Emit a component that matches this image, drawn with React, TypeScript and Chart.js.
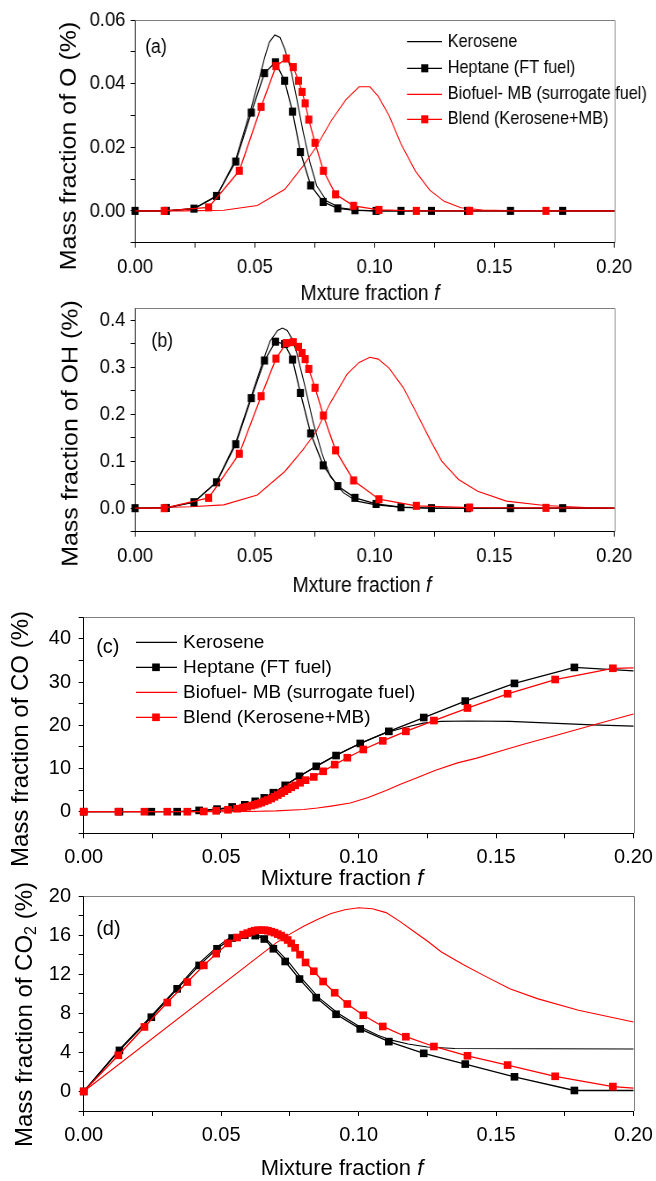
import React, { useEffect, useRef } from "react";
import { Chart, registerables } from "chart.js";

Chart.register(...registerables);

const FONT = "'Liberation Sans', Arial, Helvetica, sans-serif";
const BLACK = "#000000";
const RED = "#ff0000";
const FRAME = "#808080";

const seriesNames = ["Kerosene", "Heptane (FT fuel)", "Biofuel- MB (surrogate fuel)", "Blend (Kerosene+MB)"];

// axis tick labels (values that carry a label)
const xMajor = [0, 0.05, 0.1, 0.15, 0.2];
const yMajorO = [0, 0.02, 0.04, 0.06];
const yMajorOH = [0, 0.1, 0.2, 0.3, 0.4];
const yMajorCO = [0, 10, 20, 30, 40];
const yMajorCO2 = [0, 4, 8, 12, 16, 20];

// mixture-fraction grids of the marker series
const fHeptane = [0, 0.013, 0.0246, 0.034, 0.042, 0.0485, 0.054, 0.0586, 0.0624, 0.0657, 0.069, 0.0733, 0.0785, 0.0846, 0.0918, 0.1006, 0.111, 0.1237, 0.1388, 0.1567, 0.1785, 0.2];
const fBlendAB = [0, 0.0122, 0.0307, 0.0435, 0.0526, 0.0588, 0.0631, 0.066, 0.0682, 0.0697, 0.071, 0.0725, 0.0751, 0.0786, 0.0837, 0.0912, 0.1018, 0.1174, 0.1396, 0.1715, 0.2];
const fBlendCD = [0, 0.0126, 0.0221, 0.0304, 0.0377, 0.0437, 0.0482, 0.0525, 0.0558, 0.058, 0.0595, 0.061, 0.0622, 0.0634, 0.0646, 0.0658, 0.067, 0.0682, 0.0694, 0.0706, 0.0718, 0.073, 0.0742, 0.0755, 0.0769, 0.0787, 0.0807, 0.0837, 0.0871, 0.0913, 0.0959, 0.1017, 0.1088, 0.1172, 0.1274, 0.1396, 0.1542, 0.1715, 0.1925, 0.2];

// (a) O
const fKeroseneO = [0, 0.013, 0.0245, 0.034, 0.042, 0.0485, 0.052, 0.054, 0.056, 0.0583, 0.0605, 0.0625, 0.065, 0.0675, 0.0702, 0.073, 0.0758, 0.08, 0.0855, 0.093, 0.1, 0.11, 0.2];
const keroseneO = [0, 0, 0.0007, 0.0046, 0.0162, 0.0325, 0.042, 0.048, 0.053, 0.0553, 0.0545, 0.0508, 0.0445, 0.0351, 0.0246, 0.0152, 0.0079, 0.0031, 0.001, 0.0002, 0, 0, 0];
const heptaneO = [0, 0, 0.0007, 0.0047, 0.0155, 0.0309, 0.0433, 0.0467, 0.0409, 0.0312, 0.0185, 0.008, 0.0028, 0.0008, 0.0002, 0, 0, 0, 0, 0, 0, 0];
const fBiofuelO = [0, 0.02, 0.037, 0.051, 0.0625, 0.07, 0.0755, 0.082, 0.088, 0.0935, 0.098, 0.1015, 0.106, 0.111, 0.117, 0.123, 0.129, 0.136, 0.145, 0.16, 0.2];
const biofuelO = [0, 0, 0.0002, 0.0017, 0.0068, 0.014, 0.02, 0.0285, 0.035, 0.039, 0.039, 0.036, 0.03, 0.021, 0.0125, 0.0065, 0.003, 0.001, 0.0003, 0, 0];
const blendO = [0, 0, 0.0011, 0.0126, 0.0327, 0.0455, 0.0479, 0.0452, 0.0409, 0.0374, 0.0338, 0.0287, 0.0214, 0.0126, 0.0052, 0.0016, 0.0003, 0, 0, 0, 0];

// (b) OH
const fKeroseneOH = [0, 0.013, 0.0245, 0.034, 0.042, 0.0485, 0.054, 0.0563, 0.0595, 0.0615, 0.0635, 0.0655, 0.0675, 0.0709, 0.0744, 0.0779, 0.0814, 0.0869, 0.0925, 0.1006, 0.111, 0.124, 0.2];
const keroseneOH = [0, 0.001, 0.013, 0.056, 0.14, 0.238, 0.322, 0.355, 0.378, 0.383, 0.378, 0.36, 0.33, 0.259, 0.181, 0.118, 0.068, 0.033, 0.015, 0.007, 0.002, 0, 0];
const heptaneOH = [0, 0.0005, 0.0127, 0.055, 0.136, 0.234, 0.314, 0.354, 0.349, 0.316, 0.245, 0.159, 0.091, 0.047, 0.022, 0.009, 0.002, 0, 0, 0, 0, 0];
const fBiofuelOH = [0, 0.023, 0.037, 0.051, 0.0625, 0.07, 0.0755, 0.0815, 0.0885, 0.0935, 0.098, 0.1015, 0.106, 0.112, 0.118, 0.1235, 0.128, 0.135, 0.143, 0.155, 0.171, 0.188, 0.2];
const biofuelOH = [0, 0.003, 0.007, 0.028, 0.078, 0.124, 0.162, 0.224, 0.285, 0.31, 0.321, 0.317, 0.298, 0.256, 0.197, 0.142, 0.1, 0.061, 0.036, 0.015, 0.0057, 0.0014, 0];
const blendOH = [0, 0, 0.022, 0.1157, 0.238, 0.318, 0.351, 0.353, 0.343, 0.33, 0.317, 0.296, 0.256, 0.197, 0.123, 0.059, 0.019, 0.005, 0.0014, 0.0007, 0];

// (c) CO
const fKeroseneCO = [0, 0.04, 0.045, 0.05, 0.055, 0.06, 0.065, 0.07, 0.075, 0.08, 0.085, 0.09, 0.095, 0.1, 0.105, 0.11, 0.1175, 0.1235, 0.13, 0.14, 0.155, 0.17, 0.185, 0.2];
const keroseneCO = [0, 0.1, 0.3, 0.6, 1.2, 1.9, 3.0, 4.7, 6.8, 8.8, 10.7, 12.5, 14.1, 15.6, 17.0, 18.3, 19.6, 20.5, 20.9, 21.0, 20.9, 20.5, 20.1, 19.8];
const heptaneCO = [0, 0, 0, 0, 0.3, 0.6, 1.1, 1.6, 2.4, 3.2, 4.4, 6.1, 8.2, 10.5, 13.0, 15.8, 18.6, 21.8, 25.6, 29.7, 33.4, 32.6];
const fBiofuelCO = [0, 0.05, 0.06, 0.07, 0.08, 0.085, 0.09, 0.097, 0.1035, 0.11, 0.115, 0.121, 0.128, 0.136, 0.143, 0.1535, 0.16, 0.172, 0.186, 0.2];
const biofuelCO = [0, 0, 0.05, 0.2, 0.5, 0.85, 1.3, 2.0, 3.3, 4.9, 6.3, 7.8, 9.6, 11.3, 12.4, 14.4, 15.6, 17.7, 20.2, 22.6];
const blendCO = [0, 0, 0, 0, 0, 0.05, 0.2, 0.45, 0.7, 0.95, 1.15, 1.4, 1.6, 1.85, 2.1, 2.4, 2.7, 3.05, 3.45, 3.85, 4.3, 4.75, 5.2, 5.65, 6.1, 6.7, 7.3, 8.05, 9.35, 10.9, 12.5, 14.4, 16.4, 18.6, 21.1, 24.0, 27.3, 30.6, 33.2, 33.3];

// (d) CO2
const fKeroseneCO2 = [0, 0.013, 0.0245, 0.034, 0.0415, 0.0485, 0.0535, 0.0585, 0.062, 0.066, 0.07, 0.0745, 0.0795, 0.0855, 0.0925, 0.1, 0.107, 0.112, 0.118, 0.125, 0.135, 0.2];
const keroseneCO2 = [0, 4.3, 7.7, 10.6, 13.0, 14.8, 15.8, 16.2, 16.15, 15.7, 14.6, 13.25, 11.5, 9.6, 8.0, 6.7, 5.75, 5.25, 4.85, 4.55, 4.4, 4.35];
const heptaneCO2 = [0, 4.2, 7.6, 10.5, 12.9, 14.6, 15.7, 16.0, 15.95, 15.6, 14.6, 13.3, 11.5, 9.6, 7.9, 6.4, 5.1, 3.9, 2.8, 1.5, 0.1, 0.1];
const fBiofuelCO2 = [0, 0.07, 0.075, 0.08, 0.085, 0.09, 0.095, 0.1, 0.105, 0.11, 0.115, 0.12, 0.125, 0.13, 0.138, 0.146, 0.155, 0.165, 0.18, 0.2];
const biofuelCO2 = [0, 15.2, 16.1, 16.9, 17.6, 18.2, 18.6, 18.8, 18.7, 18.3, 17.4, 16.4, 15.4, 14.3, 13.0, 11.8, 10.5, 9.5, 8.3, 7.1];
const blendCO2 = [0, 3.7, 6.6, 9.1, 11.2, 12.9, 14.1, 15.15, 15.75, 16.05, 16.2, 16.35, 16.45, 16.5, 16.5, 16.5, 16.45, 16.35, 16.25, 16.1, 15.95, 15.75, 15.5, 15.15, 14.7, 14.0, 13.2, 12.3, 11.25, 10.1, 8.95, 7.8, 6.65, 5.6, 4.6, 3.65, 2.7, 1.55, 0.5, 0.35];

type Part = { text: string; sub?: boolean };
type Curve = { name: string; f: number[]; v: number[]; color: string; markers: boolean; firstMarker: boolean };
type LegendSpec = { x1: number; x2: number; xm: number; xt: number; rows: number[]; size: number };
type PanelSpec = {
  top: number; height: number; k: number;
  area: number[];
  yMin: number; yMax: number; yStep: number; yMajor: number[]; yDec: number;
  tickSize: number; padX: number; padY: number; markR: number;
  curves: Curve[];
  tag: string; tagPos: number[];
  yTitle: Part[]; yTitlePos: number[]; yTitleSize: number;
  xTitle: string; xTitlePos: number[]; xTitleSize: number;
  legend?: LegendSpec;
};

function curves(fk: number[], k: number[], h: number[], fb: number[], b: number[], fbl: number[], bl: number[], blendFirst: boolean): Curve[] {
  return [
    { name: seriesNames[0], f: fk, v: k, color: BLACK, markers: false, firstMarker: false },
    { name: seriesNames[1], f: fHeptane, v: h, color: BLACK, markers: true, firstMarker: true },
    { name: seriesNames[2], f: fb, v: b, color: RED, markers: false, firstMarker: false },
    { name: seriesNames[3], f: fbl, v: bl, color: RED, markers: true, firstMarker: blendFirst },
  ];
}

const panels: PanelSpec[] = [
  {
    top: 0, height: 310, k: 0.88, area: [135.1, 614.2, 20, 242.7],
    yMin: -0.01, yMax: 0.06, yStep: 0.01, yMajor: yMajorO, yDec: 2,
    tickSize: 21, padX: 7.2, padY: 5.9, markR: 5.7,
    curves: curves(fKeroseneO, keroseneO, heptaneO, fBiofuelO, biofuelO, fBlendAB, blendO, false),
    tag: "(a)", tagPos: [145.2, 47.5],
    yTitle: [{ text: "Mass fraction of O (%)" }], yTitlePos: [70, 146], yTitleSize: 25,
    xTitle: "Mxture fraction ", xTitlePos: [370, 293.5], xTitleSize: 22,
    legend: { x1: 407, x2: 442, xm: 424.7, xt: 447.7, rows: [41.7, 68.3, 94.3, 119.3], size: 18.5 },
  },
  {
    top: 290, height: 315, k: 0.88, area: [135.1, 614.2, 308.3, 531.7],
    yMin: -0.05, yMax: 0.425, yStep: 0.05, yMajor: yMajorOH, yDec: 1,
    tickSize: 21, padX: 6.7, padY: 5.9, markR: 5.7,
    curves: curves(fKeroseneOH, keroseneOH, heptaneOH, fBiofuelOH, biofuelOH, fBlendAB, blendOH, false),
    tag: "(b)", tagPos: [151.5, 341],
    yTitle: [{ text: "Mass fraction of OH (%)" }], yTitlePos: [71, 433.5], yTitleSize: 25,
    xTitle: "Mxture fraction ", xTitlePos: [362, 586], xTitleSize: 22,
  },
  {
    top: 595, height: 295, k: 1, area: [83.7, 633.5, 617.3, 833.3],
    yMin: -5, yMax: 45, yStep: 5, yMajor: yMajorCO, yDec: 0,
    tickSize: 20, padX: 7.2, padY: 7.6, markR: 5.4,
    curves: curves(fKeroseneCO, keroseneCO, heptaneCO, fBiofuelCO, biofuelCO, fBlendCD, blendCO, true),
    tag: "(c)", tagPos: [96.2, 647.5],
    yTitle: [{ text: "Mass fraction of CO (%)" }], yTitlePos: [21, 739], yTitleSize: 24,
    xTitle: "Mixture fraction ", xTitlePos: [342, 879], xTitleSize: 22,
    legend: { x1: 136, x2: 177, xm: 156, xt: 183, rows: [642.3, 667.3, 692.3, 717.3], size: 19 },
  },
  {
    top: 875, height: 306, k: 1, area: [83.7, 633.5, 896, 1111],
    yMin: -2, yMax: 20, yStep: 2, yMajor: yMajorCO2, yDec: 0,
    tickSize: 20, padX: 7, padY: 7.6, markR: 5.4,
    curves: curves(fKeroseneCO2, keroseneCO2, heptaneCO2, fBiofuelCO2, biofuelCO2, fBlendCD, blendCO2, true),
    tag: "(d)", tagPos: [96.2, 929],
    yTitle: [{ text: "Mass fraction of CO" }, { text: "2", sub: true }, { text: " (%)" }], yTitlePos: [25, 1014.5], yTitleSize: 24,
    xTitle: "Mixture fraction ", xTitlePos: [342, 1169], xTitleSize: 22,
  },
];

const isMajor = (v: number, majors: number[]) => majors.some((m) => Math.abs(m - v) < 1e-9);
const fmt = (v: number, dec: number) => (Math.abs(v) < 1e-9 ? 0 : v).toFixed(dec);

function makeDeco(spec: PanelSpec, px: (x: number) => number, py: (y: number) => number) {
  return {
    id: "deco",
    beforeDatasetsDraw(chart: any) {
      const { ctx, chartArea: a } = chart;
      ctx.save();
      ctx.strokeStyle = FRAME;
      ctx.lineWidth = 1;
      const t = Math.round(a.top) + 0.5;
      const r = Math.round(a.right) + 0.5;
      ctx.beginPath();
      ctx.moveTo(a.left, t);
      ctx.lineTo(r, t);
      ctx.lineTo(r, a.bottom);
      ctx.stroke();
      ctx.restore();
    },
    afterDraw(chart: any) {
      const ctx: CanvasRenderingContext2D = chart.ctx;
      ctx.save();
      ctx.fillStyle = BLACK;
      ctx.textBaseline = "middle";
      ctx.textAlign = "left";
      // panel tag
      ctx.font = `20px ${FONT}`;
      ctx.fillText(spec.tag, px(spec.tagPos[0]), py(spec.tagPos[1]));
      // x title with italic f
      const xs = spec.xTitleSize;
      ctx.font = `${xs}px ${FONT}`;
      const w1 = ctx.measureText(spec.xTitle).width;
      ctx.font = `italic ${xs}px ${FONT}`;
      const w2 = ctx.measureText("f").width;
      const x0 = px(spec.xTitlePos[0]) - (w1 + w2) / 2;
      const xy = py(spec.xTitlePos[1]);
      ctx.font = `${xs}px ${FONT}`;
      ctx.fillText(spec.xTitle, x0, xy);
      ctx.font = `italic ${xs}px ${FONT}`;
      ctx.fillText("f", x0 + w1, xy);
      // y title (rotated)
      const ys = spec.yTitleSize;
      const fontOf = (p: Part) => `${p.sub ? Math.round(ys * 0.66) : ys}px ${FONT}`;
      let total = 0;
      const widths = spec.yTitle.map((p) => {
        ctx.font = fontOf(p);
        const w = ctx.measureText(p.text).width;
        total += w;
        return w;
      });
      ctx.save();
      ctx.translate(px(spec.yTitlePos[0]), py(spec.yTitlePos[1]));
      ctx.rotate(-Math.PI / 2);
      let cx = -total / 2;
      spec.yTitle.forEach((p, i) => {
        ctx.font = fontOf(p);
        ctx.fillText(p.text, cx, p.sub ? ys * 0.28 : 0);
        cx += widths[i];
      });
      ctx.restore();
      // legend
      const lg = spec.legend;
      if (lg) {
        spec.curves.forEach((c, i) => {
          const y = py(lg.rows[i]);
          ctx.strokeStyle = c.color;
          ctx.lineWidth = 1.3;
          ctx.beginPath();
          ctx.moveTo(px(lg.x1), y);
          ctx.lineTo(px(lg.x2), y);
          ctx.stroke();
          if (c.markers) {
            const s = spec.markR * Math.SQRT2;
            ctx.fillStyle = c.color;
            ctx.fillRect(px(lg.xm) - s / 2, y - s / 2, s, s);
          }
          ctx.fillStyle = BLACK;
          ctx.font = `${lg.size}px ${FONT}`;
          ctx.fillText(c.name, px(lg.xt), y);
        });
      }
      ctx.restore();
    },
  };
}

function PanelChart({ spec }: { spec: PanelSpec }) {
  const ref = useRef<HTMLCanvasElement | null>(null);
  const W = Math.round(656 / spec.k);
  const kk = 656 / W;
  useEffect(() => {
    const canvas = ref.current;
    if (!canvas) return;
    const px = (x: number) => x / kk;
    const py = (y: number) => y - spec.top;
    const [aL, aR, aT, aB] = spec.area;
    const L = px(aL), R = px(aR), T = py(aT), B = py(aB);
    const H = spec.height;
    const orders = [3, 1, 2, 0];
    const datasets = spec.curves.map((c, i) => ({
      label: c.name,
      data: c.f.map((f, j) => ({ x: f, y: c.v[j] })),
      borderColor: c.color,
      backgroundColor: c.color,
      borderWidth: c.markers ? 1.3 : 1.1,
      pointStyle: "rect",
      pointRadius: c.markers
        ? (ctx: any) => {
            const idx = ctx.dataIndex;
            if (c.f[idx] >= 0.2 - 1e-9) return 0;
            if (idx === 0 && !c.firstMarker) return 0;
            return spec.markR;
          }
        : 0,
      pointHoverRadius: 0,
      pointBorderWidth: 0,
      fill: false,
      tension: 0,
      clip: false,
      order: orders[i],
    }));
    const tickFont = { family: FONT, size: spec.tickSize };
    const chart = new Chart(canvas, {
      type: "line",
      data: { datasets } as any,
      options: {
        animation: false,
        responsive: false,
        maintainAspectRatio: false,
        events: [],
        layout: { padding: { left: 0, right: W - R, top: T, bottom: 0 } },
        plugins: { legend: { display: false }, tooltip: { enabled: false }, title: { display: false } },
        scales: {
          x: {
            type: "linear",
            position: "bottom",
            min: 0,
            max: 0.2,
            ticks: {
              stepSize: 0.025,
              autoSkip: false,
              maxRotation: 0,
              minRotation: 0,
              includeBounds: false,
              padding: spec.padX,
              color: BLACK,
              font: tickFont,
              callback: (v: any) => (isMajor(Number(v), xMajor) ? fmt(Number(v), 2) : ""),
            },
            grid: { display: true, drawOnChartArea: false, drawTicks: true, tickLength: 5, tickColor: BLACK, tickWidth: 1 },
            border: { display: true, color: BLACK, width: 1 },
            afterFit: (s: any) => {
              s.height = H - B;
              s.paddingLeft = 0;
              s.paddingRight = 0;
            },
          },
          y: {
            type: "linear",
            position: "left",
            min: spec.yMin,
            max: spec.yMax,
            ticks: {
              stepSize: spec.yStep,
              autoSkip: false,
              includeBounds: false,
              padding: spec.padY,
              color: BLACK,
              font: tickFont,
              callback: (v: any) => (isMajor(Number(v), spec.yMajor) ? fmt(Number(v), spec.yDec) : ""),
            },
            grid: { display: true, drawOnChartArea: false, drawTicks: true, tickLength: 5, tickColor: BLACK, tickWidth: 1 },
            border: { display: true, color: BLACK, width: 1 },
            afterFit: (s: any) => {
              s.width = L;
              s.paddingTop = 0;
              s.paddingBottom = 0;
            },
          },
        },
      } as any,
      plugins: [makeDeco(spec, px, py) as any],
    });
    return () => chart.destroy();
  }, [spec]);
  return (
    <div
      style={{
        position: "absolute",
        left: 0,
        top: spec.top,
        width: W,
        height: spec.height,
        transform: kk !== 1 ? `scaleX(${kk})` : undefined,
        transformOrigin: "0 0",
      }}
    >
      <canvas ref={ref} width={W} height={spec.height} style={{ display: "block", width: W, height: spec.height }} />
    </div>
  );
}

export default function App() {
  return (
    <div
      style={{
        position: "absolute",
        left: 0,
        top: 0,
        width: 656,
        height: 1181,
        overflow: "hidden",
        background: "#ffffff",
      }}
    >
      {panels.map((p, i) => (
        <PanelChart key={i} spec={p} />
      ))}
    </div>
  );
}
